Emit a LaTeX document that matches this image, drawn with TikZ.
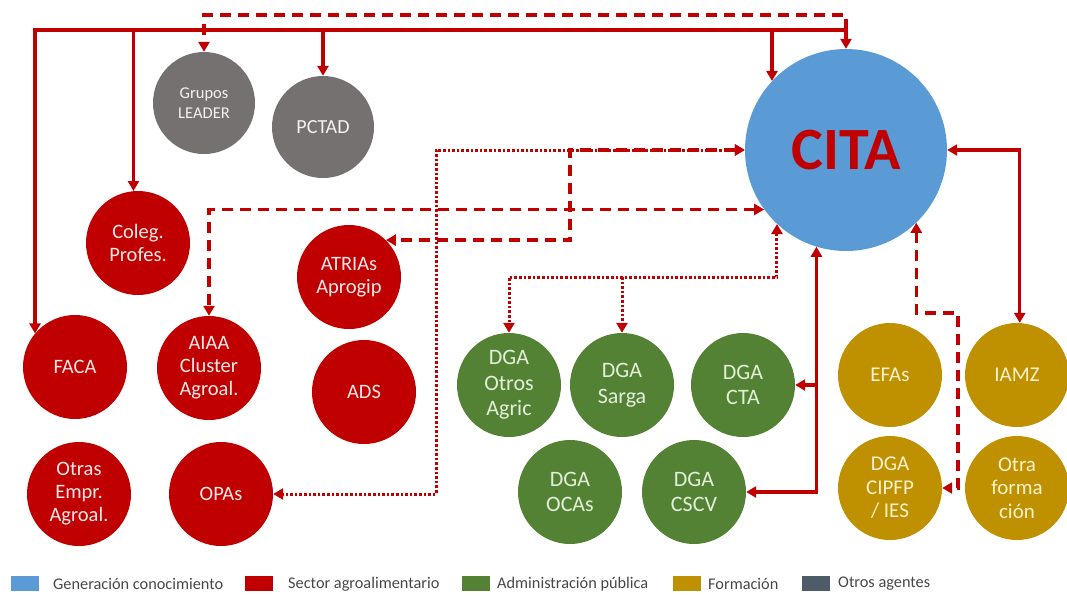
\documentclass[tikz,border=0pt]{standalone}
\usepackage{fontspec}
\setmainfont{Carlito}
\usetikzlibrary{arrows.meta,calc}
\definecolor{cred}{HTML}{C00000}
\definecolor{cgreen}{HTML}{548235}
\definecolor{cgold}{HTML}{BF9000}
\definecolor{cgray}{HTML}{767171}
\definecolor{cblue}{HTML}{5B9BD5}
\definecolor{cslate}{HTML}{4F5B66}
\definecolor{lnred}{HTML}{C00000}
\definecolor{citatext}{HTML}{C00000}
\definecolor{txred}{HTML}{FBE9E9}
\definecolor{txgreen}{HTML}{E2F0D9}
\definecolor{txgold}{HTML}{FFF2CC}
\definecolor{txgray}{HTML}{F2F2F2}
\begin{document}
\begin{tikzpicture}[x=1pt,y=-1pt,
  ent/.style={circle,minimum size=104pt,inner sep=0pt,align=center,font=\fontsize{20.5}{23}\selectfont},
  agro/.style={ent,fill=cred,text=txred},
  admin/.style={ent,fill=cgreen,text=txgreen,font=\fontsize{22}{25.5}\selectfont},
  form/.style={ent,fill=cgold,text=txgold,font=\fontsize{21}{23.5}\selectfont},
  otros/.style={ent,fill=cgray,text=txgray,minimum size=102pt},
  conn/.style={draw=lnred,line width=3.2pt},
  solidln/.style={conn},
  dashln/.style={conn,dash pattern=on 11pt off 7pt},
  dotln/.style={conn,line width=3pt,dash pattern=on 2.6pt off 2pt},
  tip/.style={-{Triangle[length=10pt,width=11pt]}},
  tips/.style={{Triangle[length=10pt,width=11pt]}-{Triangle[length=10pt,width=11pt]}},
  leg/.style={minimum width=28pt,minimum height=15pt,inner sep=0pt,anchor=west},
  legtext/.style={anchor=west,inner sep=0pt,font=\fontsize{16.3}{18}\selectfont,text=black!72}
]
\useasboundingbox (0,0) rectangle (1067,595);

% nodes
\node[otros,font=\fontsize{16.5}{20}\selectfont] (grupos) at (204,103) {Grupos\\LEADER};
\node[otros,font=\fontsize{20}{23}\selectfont] (pctad) at (323,127) {PCTAD};
\node[ent,fill=cblue,minimum size=202pt,text=citatext,font=\fontsize{60}{60}\selectfont\bfseries] (cita) at (846,150) {CITA};
\node[agro] (coleg) at (138,243) {Coleg.\\Profes.};
\node[agro] (faca) at (75,367) {FACA};
\node[agro] (aiaa) at (209,368) {AIAA\\Cluster\\Agroal.};
\node[agro] (atrias) at (349,277) {ATRIAs\\Aprogip};
\node[agro] (ads) at (364,392) {ADS};
\node[agro] (otras) at (79,494) {Otras\\Empr.\\Agroal.};
\node[agro] (opas) at (221,494) {OPAs};
\node[admin] (otrosag) at (509,385) {DGA\\Otros\\Agric};
\node[admin] (sarga) at (622,385) {DGA\\Sarga};
\node[admin] (cta) at (743,385) {DGA\\CTA};
\node[admin] (ocas) at (570,492) {DGA\\OCAs};
\node[admin] (cscv) at (694,492) {DGA\\CSCV};
\node[form] (efas) at (890,375) {EFAs};
\node[form] (cipfp) at (890,488) {DGA\\CIPFP\\/ IES};
\node[form] (iamz) at (1017,375) {IAMZ};
\node[form] (otraf) at (1017,488) {Otra\\forma\\ción};

% helper coordinates
\coordinate (busY) at (0,30);
\coordinate (dshY) at (0,15);
\coordinate (dotX) at (436,0);
\coordinate (daX) at (570,0);
\coordinate (dgY) at (0,277);
\coordinate (ceY) at (0,313);
\coordinate (ceX) at (958,0);

% solid top bus
\draw[solidln,tip] (cita.north |- busY) -- (faca.140 |- busY) -- (faca.140);
\draw[solidln,tip] (coleg.95 |- busY) -- (coleg.95);
\draw[solidln,tip] (pctad.north |- busY) -- (pctad.north);
\draw[solidln,tip] (cita.137 |- busY) -- (cita.137);
\draw[solidln,tip] (cita.north |- busY) -- (cita.north);

% dashed top to Grupos LEADER
\draw[dashln,tip] (cita.north |- busY) -- (cita.north |- dshY) -- (grupos.north |- dshY) -- (grupos.north);

% dotted CITA - OPAs
\draw[dotln,tips] (cita.west) -- (cita.west -| dotX) -- (opas.east -| dotX) -- (opas.east);
% dashed CITA - ATRIAs
\draw[dashln,tips] (cita.west) -- (cita.west -| daX) -- (atrias.45 -| daX) -- (atrias.45);
% dashed CITA - AIAA
\draw[dashln,tips] (cita.216) -- (cita.216 -| aiaa.north) -- (aiaa.north);
% dotted CITA - DGA Otros / Sarga
\draw[dotln,tips] (cita.227) -- (cita.227 |- dgY) -- (otrosag.north |- dgY) -- (otrosag.north);
\draw[dotln,tip] (sarga.north |- dgY) -- (sarga.north);
% solid CITA - CTA / CSCV
\draw[solidln,tips] (cita.253) -- (cita.253 |- cscv.east) -- (cscv.east);
\draw[solidln,tip] (cita.253 |- cta.east) -- (cta.east);
% dashed CITA - CIPFP
\draw[dashln,tips] (cita.314) -- (cita.314 |- ceY) -- (ceX |- ceY) -- (ceX |- cipfp.east) -- (cipfp.east);
% solid CITA - IAMZ
\draw[solidln,tips] (cita.east) -- (cita.east -| iamz.87) -- (iamz.87);

% legend
\node[leg,fill=cblue] (lg1) at (11,583) {};
\node[legtext] (lt1) at (53,584) {Generación conocimiento};
\node[leg,fill=cred] (lg2) at (245,583) {};
\node[legtext] (lt2) at (288,584) {Sector agroalimentario};
\node[leg,fill=cgreen] (lg3) at (462,583) {};
\node[legtext] (lt3) at (497,584) {Administración pública};
\node[leg,fill=cgold] (lg4) at (673,583) {};
\node[legtext] (lt4) at (708,584) {Formación};
\node[leg,fill=cslate] (lg5) at (802,583) {};
\node[legtext] (lt5) at (838,584) {Otros agentes};
\end{tikzpicture}
\end{document}
